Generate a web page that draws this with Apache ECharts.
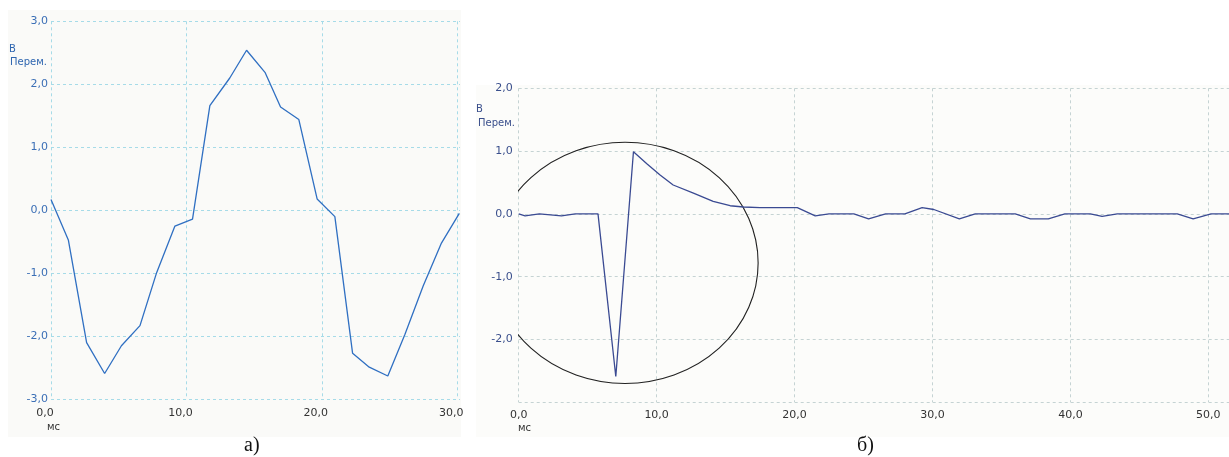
<!DOCTYPE html>
<html><head><meta charset="utf-8">
<script src="https://cdn.jsdelivr.net/npm/echarts@6/dist/echarts.min.js"></script>
<style>html,body{margin:0;padding:0;background:#fff}#c{width:1229px;height:457px}</style>
</head><body><div id="c"></div>
<script>
// Panel a) data (time in ms, value)
const leftX = [0, 1.28, 2.63, 3.96, 5.2, 6.57, 7.8, 9.15, 10.45, 11.73, 13.2, 14.44, 15.8, 16.95, 18.3, 19.65, 20.96, 22.27, 23.5, 24.87, 26.13, 27.48, 28.83, 30.15];
const leftY = [0.17, -0.47, -2.1, -2.59, -2.15, -1.83, -0.99, -0.25, -0.14, 1.66, 2.1, 2.54, 2.19, 1.64, 1.44, 0.18, -0.1, -2.27, -2.49, -2.63, -1.97, -1.2, -0.52, -0.05];
// Panel б) data
const rightX = [0, 0.46, 1.5, 3.1, 4.1, 5.75, 7.04, 8.32, 9.29, 10.25, 11.2, 12.67, 14.1, 15.33, 16.3, 17.5, 20.2, 21.5, 22.5, 24.3, 25.37, 26.6, 28.0, 29.25, 30.1, 31.95, 33.1, 36.0, 37.1, 38.4, 39.6, 41.45, 42.3, 43.4, 47.75, 48.9, 50.2, 51.5];
const rightY = [0, -0.03, 0, -0.03, 0, 0, -2.59, 0.99, 0.8, 0.62, 0.46, 0.33, 0.2, 0.13, 0.11, 0.1, 0.1, -0.03, 0, 0, -0.08, 0, 0, 0.1, 0.07, -0.08, 0, 0, -0.08, -0.08, 0, 0, -0.04, 0, 0, -0.08, 0, 0];
// Annotation ellipse in data units: [centerX, centerY, radiusX, radiusY]
const ellipse = [[7.71, -0.78, 9.65, 1.92]];
// Texts
const unitTop = 'В';
const unitName = 'Перем.';
const timeUnit = 'мс';
const panelLabels = ['а)', 'б)'];

const fmt = v => (Math.abs(v - Math.round(v / 10) * 10) < 1e-6 || Number.isInteger(v)) ? v.toFixed(1).replace('.', ',') : '';
const fmtX = v => (Math.abs(v % 10) < 1e-6) ? v.toFixed(1).replace('.', ',') : '';
const fmtY = v => v.toFixed(1).replace('.', ',');

const font = 'DejaVu Sans';
const chart = echarts.init(document.getElementById('c'));
chart.setOption({
  animation: false,
  backgroundColor: '#fff',
  graphic: [
    {type:'rect', z:-10, shape:{x:8, y:10, width:453, height:427}, style:{fill:'#fafaf8'}},
    {type:'rect', z:-10, shape:{x:476, y:85, width:753, height:352}, style:{fill:'#fcfcfa'}},
    {type:'text', left:9, top:44, style:{text:unitTop, font:'10px "DejaVu Sans"', fill:'#2f66b0'}},
    {type:'text', left:10, top:57, style:{text:unitName, font:'10px "DejaVu Sans"', fill:'#2f66b0'}},
    {type:'text', left:476, top:104, style:{text:unitTop, font:'10px "DejaVu Sans"', fill:'#3a4f8c'}},
    {type:'text', left:478, top:118, style:{text:unitName, font:'10px "DejaVu Sans"', fill:'#3a4f8c'}},
    {type:'text', left:47, top:422, style:{text:timeUnit, font:'10px "DejaVu Sans"', fill:'#333'}},
    {type:'text', left:518, top:423, style:{text:timeUnit, font:'10px "DejaVu Sans"', fill:'#333'}},
    {type:'text', left:244, top:436, style:{text:panelLabels[0], font:'20px "Liberation Serif"', fill:'#111'}},
    {type:'text', left:857, top:436, style:{text:panelLabels[1], font:'20px "Liberation Serif"', fill:'#111'}}
  ],
  grid: [
    {left:51, top:21.3, width:409, height:378},
    {left:518.7, top:88.3, width:710.3, height:314}
  ],
  xAxis: [
    {gridIndex:0, type:'value', min:0, max:30.2, interval:10,
     axisLine:{show:false}, axisTick:{show:false},
     axisLabel:{formatter:fmtX, color:'#333', fontFamily:font, fontSize:11, margin:8, padding:[0,12,0,0], showMaxLabel:false},
     splitLine:{show:true, showMaxLine:false, lineStyle:{type:[3,3], color:'#a6dbe8', width:1}}},
    {gridIndex:1, type:'value', min:0, max:51.5, interval:10,
     axisLine:{show:false}, axisTick:{show:false},
     axisLabel:{formatter:fmtX, color:'#333', fontFamily:font, fontSize:11, margin:7, showMaxLabel:false},
     splitLine:{show:true, showMaxLine:false, lineStyle:{type:[3,3], color:'#c5d3d3', width:1}}}
  ],
  yAxis: [
    {gridIndex:0, type:'value', min:-3, max:3, interval:1,
     axisLine:{show:false}, axisTick:{show:false},
     axisLabel:{formatter:fmtY, color:'#3b6fb6', fontFamily:font, fontSize:11, margin:3},
     splitLine:{show:true, lineStyle:{type:[3,3], color:'#a6dbe8', width:1}}},
    {gridIndex:1, type:'value', min:-3, max:2, interval:1,
     axisLine:{show:false}, axisTick:{show:false},
     axisLabel:{formatter:fmtY, color:'#3a4f8c', fontFamily:font, fontSize:11, margin:6, showMinLabel:false},
     splitLine:{show:true, lineStyle:{type:[3,3], color:'#c5d3d3', width:1}}}
  ],
  series: [
    {type:'line', xAxisIndex:0, yAxisIndex:0, symbol:'none', clip:false,
     data: leftX.map((x,i)=>[x,leftY[i]]), lineStyle:{color:'#2f6fc2', width:1.3}},
    {type:'line', xAxisIndex:1, yAxisIndex:1, symbol:'none',
     data: rightX.map((x,i)=>[x,rightY[i]]), lineStyle:{color:'#3a4a92', width:1.3}},
    {type:'custom', xAxisIndex:1, yAxisIndex:1, clip:true, silent:true,
     data: ellipse,
     renderItem: (params, api) => {
       const c = api.coord([api.value(0), api.value(1)]);
       const s = api.size([api.value(2), api.value(3)]);
       return {type:'circle', x:c[0], y:c[1], scaleX:s[0]/s[1],
               shape:{cx:0, cy:0, r:s[1]},
               style:{fill:'none', stroke:'#222', lineWidth:1, strokeNoScale:true}};
     }}
  ]
});
</script>
</body></html>
